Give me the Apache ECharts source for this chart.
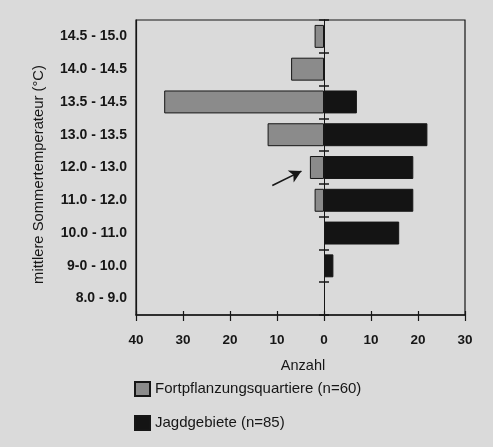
<!DOCTYPE html>
<html>
<head>
<meta charset="utf-8">
<script src="https://cdn.jsdelivr.net/npm/echarts@6/dist/echarts.min.js"></script>
<style>
  html, body { margin: 0; padding: 0; background: #dadada; }
  #chart { width: 493px; height: 447px; }
</style>
</head>
<body>
<div id="chart"></div>
<script>
// temperature classes, top to bottom
const categories = ['14.5 - 15.0', '14.0 - 14.5', '13.5 - 14.5', '13.0 - 13.5', '12.0 - 13.0',
  '11.0 - 12.0', '10.0 - 11.0', '9-0 - 10.0', '8.0 - 9.0']
// Fortpflanzungsquartiere (n=60), drawn to the left
const quartiere = [2, 7, 34, 12, 3, 2, 0, 0, 0]
// Jagdgebiete (n=85), drawn to the right
const jagd = [0, 0, 7, 22, 19, 19, 16, 2, 0]
const xMin = -40
const xMax = 30
const xStep = 10

const ink = '#161616'
const font = 'Liberation Sans, Arial, sans-serif'

const chart = echarts.init(document.getElementById('chart'))

const centerAxis = (position) => ({
  type: 'category',
  data: categories,
  inverse: true,
  position: position,
  axisLine: { show: true, onZero: true, onZeroAxisIndex: 0, lineStyle: { color: ink, width: 1 } },
  axisTick: { show: true, length: 5, inside: false, lineStyle: { color: ink, width: 1.5 } },
  axisLabel: { show: false },
  splitLine: { show: false }
})

const option = {
  animation: false,
  backgroundColor: '#dadada',
  textStyle: { fontFamily: font },
  grid: {
    left: 136,
    right: 28,
    top: 20,
    bottom: 132,
    show: true,
    borderColor: ink,
    borderWidth: 1.2,
    backgroundColor: 'transparent'
  },
  legend: {
    orient: 'vertical',
    left: 134,
    top: 381,
    padding: 0,
    itemWidth: 15,
    itemHeight: 14,
    itemGap: 18,
    icon: 'rect',
    textStyle: { fontSize: 15, lineHeight: 16, color: ink, fontFamily: font },
    data: ['Fortpflanzungsquartiere (n=60)', 'Jagdgebiete (n=85)']
  },
  xAxis: [
    {
      type: 'value',
      min: xMin,
      max: xMax,
      interval: xStep,
      name: 'Anzahl',
      nameLocation: 'middle',
      nameGap: 43,
      nameTextStyle: { fontSize: 14.5, color: ink, padding: [0, 0, 0, 5] },
      axisLine: { show: true, onZero: false, lineStyle: { color: ink, width: 1.5 } },
      axisTick: { show: true, length: 6, lineStyle: { color: ink, width: 1.2 } },
      axisLabel: {
        margin: 18,
        fontSize: 13.5,
        fontWeight: 'bold',
        color: ink,
        formatter: (v) => String(Math.abs(v))
      },
      splitLine: { show: false }
    },
    {
      type: 'value',
      min: xMin,
      max: xMax,
      interval: xStep,
      position: 'bottom',
      axisLine: { show: false, onZero: false },
      axisTick: { show: true, inside: true, length: 4, lineStyle: { color: ink, width: 1.2 } },
      axisLabel: { show: false },
      splitLine: { show: false }
    }
  ],
  yAxis: [
    {
      type: 'category',
      data: categories,
      inverse: true,
      position: 'left',
      name: 'mittlere Sommertemperateur (°C)',
      nameLocation: 'middle',
      nameGap: 90,
      nameTextStyle: { fontSize: 14.8, color: ink, padding: [0, 14, 0, 0] },
      axisLine: { show: true, onZero: false, lineStyle: { color: ink, width: 1.2 } },
      axisTick: { show: false },
      axisLabel: { margin: 9, fontSize: 14, color: ink, fontWeight: 'bold' },
      splitLine: { show: false }
    },
    centerAxis('left'),
    centerAxis('right')
  ],
  series: [
    {
      name: 'Fortpflanzungsquartiere (n=60)',
      type: 'bar',
      stack: 'n',
      barWidth: '70%',
      itemStyle: { color: '#8b8b8b', borderColor: ink, borderWidth: 1 },
      data: quartiere.map(v => (v ? -v : '-'))
    },
    {
      name: 'Jagdgebiete (n=85)',
      type: 'bar',
      stack: 'n',
      barWidth: '70%',
      itemStyle: { color: '#141414', borderColor: ink, borderWidth: 1 },
      data: jagd.map(v => (v ? v : '-'))
    }
  ]
}

chart.setOption(option)

// arrow pointing at the small bar of class 12.0 - 13.0
const arrowRow = 4
const rowA = chart.convertToPixel({ gridIndex: 0 }, [0, arrowRow])
const rowB = chart.convertToPixel({ gridIndex: 0 }, [0, arrowRow + 1])
const band = rowB[1] - rowA[1]
const tail = chart.convertToPixel({ gridIndex: 0 }, [-11, arrowRow])
const head = chart.convertToPixel({ gridIndex: 0 }, [-4.8, arrowRow])
chart.setOption({
  series: [{
    markLine: {
      silent: true,
      symbol: ['none', 'arrow'],
      symbolSize: [10, 12],
      label: { show: false },
      lineStyle: { color: ink, width: 1.6, type: 'solid' },
      data: [[
        { x: tail[0], y: tail[1] + band * 0.55 },
        { x: head[0], y: head[1] + band * 0.11 }
      ]]
    }
  }]
})
</script>
</body>
</html>
